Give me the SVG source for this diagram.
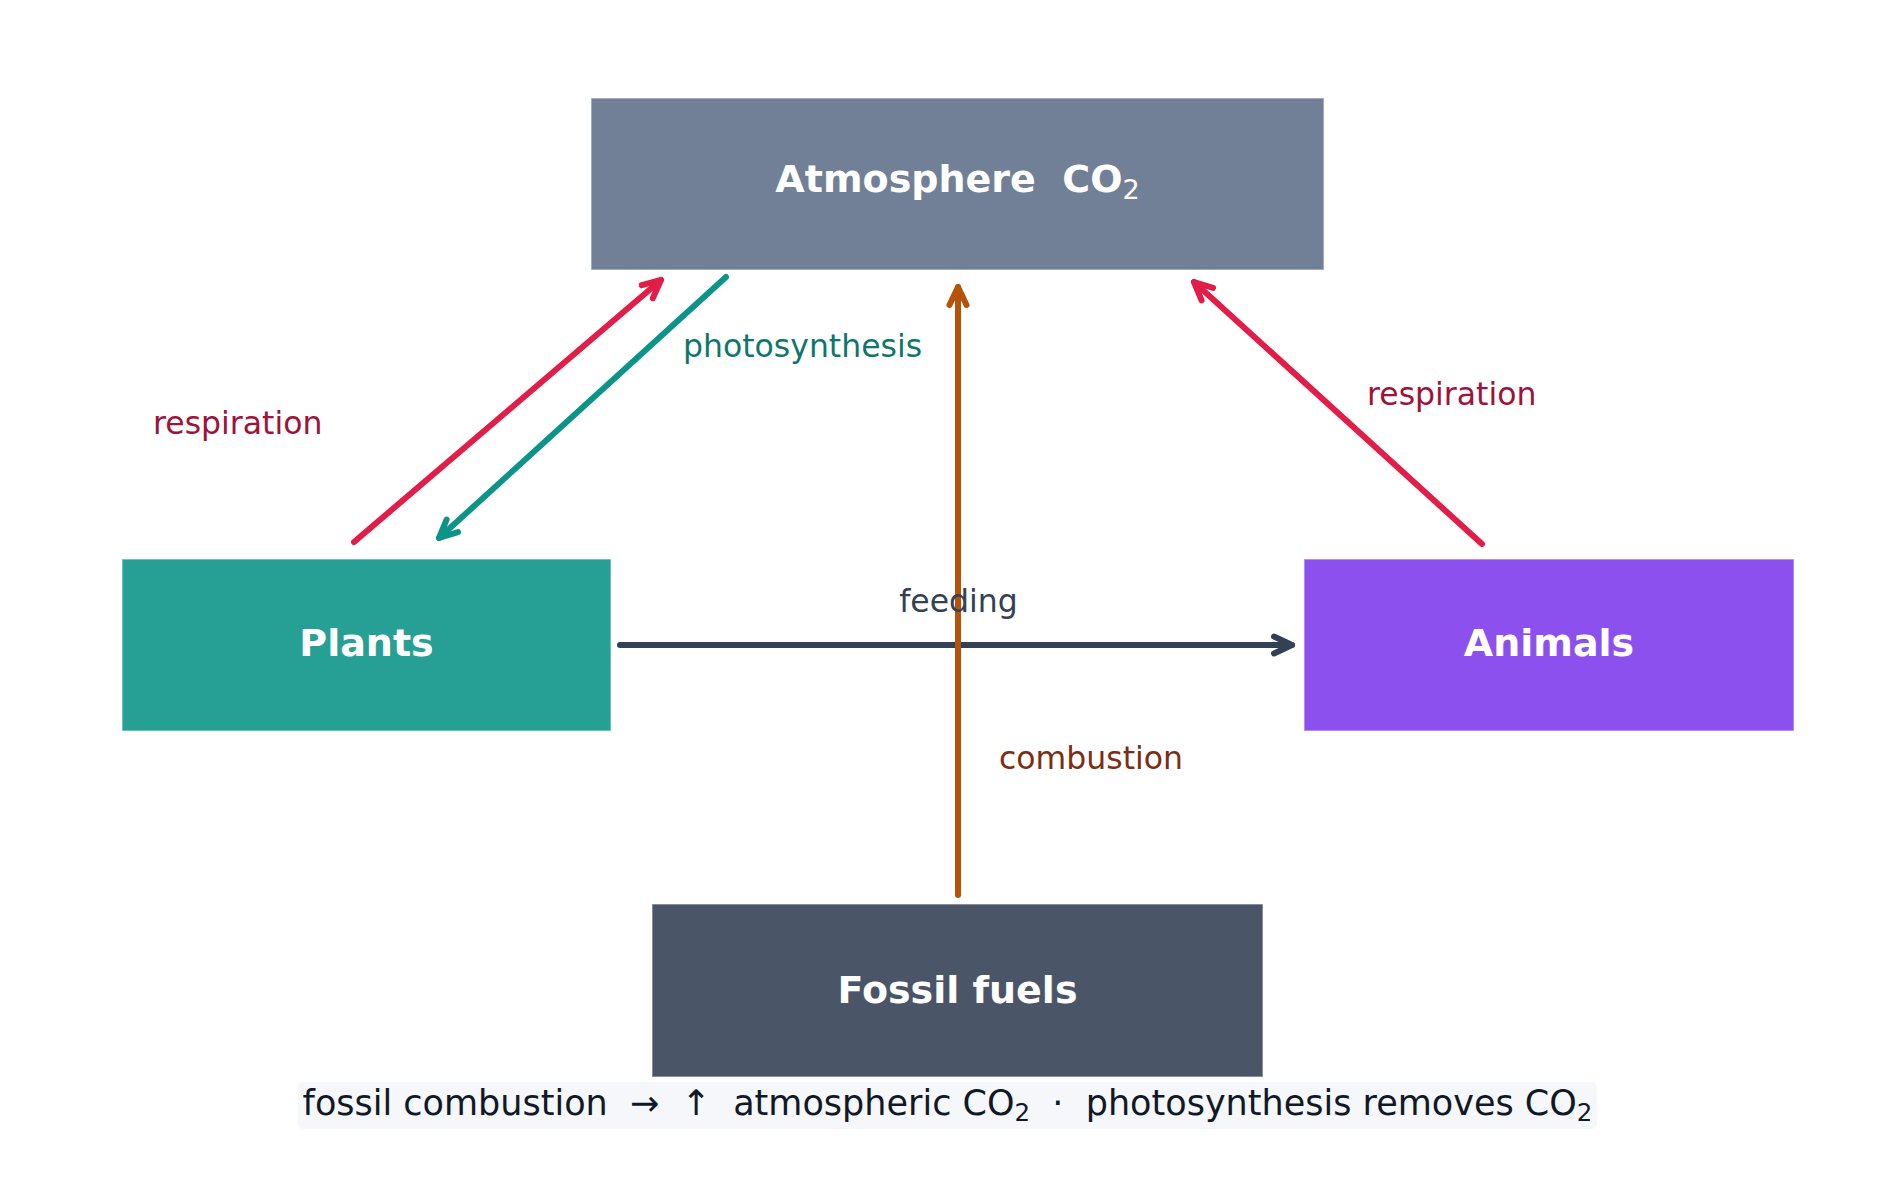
<svg xmlns="http://www.w3.org/2000/svg" width="1896" height="1204" viewBox="0 0 1896 1204">
  <style>
    text { font-family: "DejaVu Sans", "Noto Sans", sans-serif; }
    .node rect { stroke: #ffffff; stroke-opacity: 0.45; stroke-width: 1.5; }
    .nlabel { font-size: 38px; font-weight: bold; fill: #ffffff; text-anchor: middle; }
    .nsub { font-size: 27px; font-weight: normal; }
    .elabel { font-size: 31.5px; }
    .conn line { fill: none; stroke-width: 6; stroke-linecap: round; }
    .cap { font-size: 35px; fill: #111827; text-anchor: middle; }
    .csub { font-size: 24.5px; }
  </style>
  <defs>
    <marker id="ah-red" markerUnits="userSpaceOnUse" markerWidth="30" markerHeight="30" refX="0" refY="0" orient="auto" overflow="visible">
      <path d="M-18,-8.5 L0,0 L-18,8.5" fill="none" stroke="#e11d48" stroke-width="6" stroke-linecap="round" stroke-linejoin="round"/>
    </marker>
    <marker id="ah-teal" markerUnits="userSpaceOnUse" markerWidth="30" markerHeight="30" refX="0" refY="0" orient="auto" overflow="visible">
      <path d="M-18,-8.5 L0,0 L-18,8.5" fill="none" stroke="#0d9488" stroke-width="6" stroke-linecap="round" stroke-linejoin="round"/>
    </marker>
    <marker id="ah-orange" markerUnits="userSpaceOnUse" markerWidth="30" markerHeight="30" refX="0" refY="0" orient="auto" overflow="visible">
      <path d="M-18,-8.5 L0,0 L-18,8.5" fill="none" stroke="#b45309" stroke-width="6" stroke-linecap="round" stroke-linejoin="round"/>
    </marker>
    <marker id="ah-slate" markerUnits="userSpaceOnUse" markerWidth="30" markerHeight="30" refX="0" refY="0" orient="auto" overflow="visible">
      <path d="M-18,-8.5 L0,0 L-18,8.5" fill="none" stroke="#334155" stroke-width="6" stroke-linecap="round" stroke-linejoin="round"/>
    </marker>
  </defs>

  <rect width="1896" height="1204" fill="#ffffff"/>

  <g id="atmosphere" class="node">
    <rect x="591" y="98" width="733" height="172" fill="#718096"/>
    <text class="nlabel" x="957.5" y="192" xml:space="preserve">Atmosphere  CO<tspan class="nsub" dy="7">2</tspan></text>
  </g>

  <g id="plants" class="node">
    <rect x="122" y="559" width="489" height="172" fill="#26a095"/>
    <text class="nlabel" x="366.5" y="656">Plants</text>
  </g>

  <g id="animals" class="node">
    <rect x="1304" y="559" width="490" height="172" fill="#8b50ee"/>
    <text class="nlabel" x="1549" y="656">Animals</text>
  </g>

  <g id="fossil-fuels" class="node">
    <rect x="652" y="904" width="611" height="173" fill="#4a5568"/>
    <text class="nlabel" x="957.5" y="1003">Fossil fuels</text>
  </g>

  <g id="connectors" class="conn">
    <line x1="354" y1="542" x2="661" y2="280" stroke="#e11d48" marker-end="url(#ah-red)"/>
    <line x1="726" y1="277" x2="439" y2="538" stroke="#0d9488" marker-end="url(#ah-teal)"/>
    <line x1="1482" y1="544" x2="1194" y2="282" stroke="#e11d48" marker-end="url(#ah-red)"/>
    <line x1="620" y1="645" x2="1292" y2="645" stroke="#334155" marker-end="url(#ah-slate)"/>
    <line x1="958" y1="895" x2="958" y2="287" stroke="#b45309" marker-end="url(#ah-orange)"/>
  </g>

  <g id="edge-labels">
    <text class="elabel" x="153" y="434" fill="#9f1239">respiration</text>
    <text class="elabel" x="683" y="357" fill="#0f766e">photosynthesis</text>
    <text class="elabel" x="1367" y="405" fill="#9f1239">respiration</text>
    <text class="elabel" x="958.5" y="612" fill="#334155" text-anchor="middle">feeding</text>
    <text class="elabel" x="999" y="769" fill="#7c2d12">combustion</text>
  </g>

  <g id="caption">
    <rect x="298" y="1082" width="1299" height="47" rx="5" fill="#f5f7fa"/>
    <text class="cap" x="947.5" y="1115" xml:space="preserve">fossil combustion  →  ↑  atmospheric CO<tspan class="csub" dy="6">2</tspan><tspan dy="-6">  ·  photosynthesis removes CO</tspan><tspan class="csub" dy="6">2</tspan></text>
  </g>
</svg>
